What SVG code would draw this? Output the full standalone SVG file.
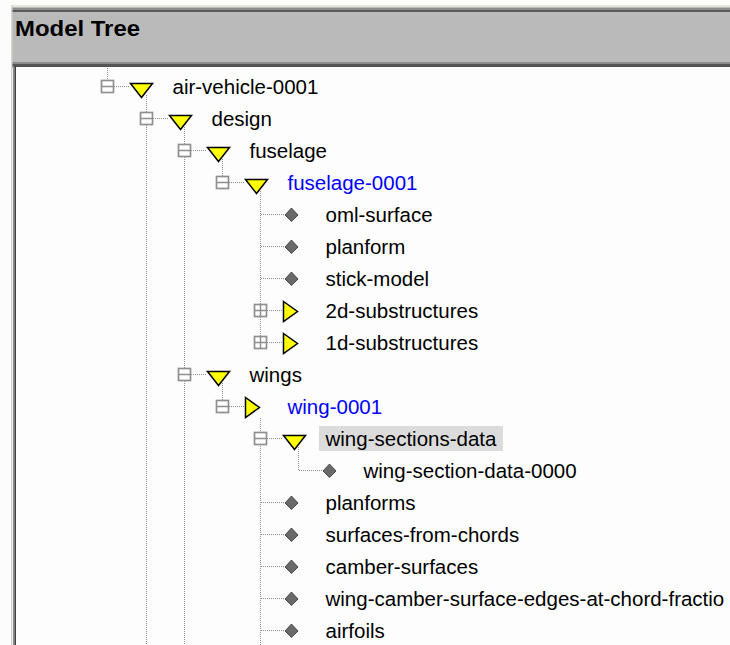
<svg xmlns="http://www.w3.org/2000/svg" width="730" height="645" viewBox="0 0 730 645">
  <style>
    .dot { fill: none; stroke: #8e8e8e; stroke-width: 1; stroke-dasharray: 1 1; }
    .box { fill: #ffffff; stroke: #8f8f8f; stroke-width: 1.7; }
    .boxline { stroke: #8f8f8f; stroke-width: 1.5; }
    .tri { fill: #ffff00; stroke: #000000; stroke-width: 1.5; stroke-linejoin: miter; }
    .dia { fill: #6a6a6a; stroke: #4a4a4a; stroke-width: 1; }
    .t { font-family: "Liberation Sans", Arial, sans-serif; font-size: 20.5px; fill: #000000; }
    .blue { fill: #0000ff; }
    .title { font-family: "Liberation Sans", Arial, sans-serif; font-size: 22px; font-weight: bold; fill: #000000; }
  </style>
  <defs>
    <!-- expand/collapse boxes, centred on (0,0) -->
    <g id="minus">
      <rect class="box" x="-6" y="-6" width="12" height="12"/>
      <line class="boxline" x1="-6" y1="0" x2="6" y2="0"/>
    </g>
    <g id="plus">
      <rect class="box" x="-6" y="-6" width="12" height="12"/>
      <line class="boxline" x1="-6" y1="0" x2="6" y2="0"/>
      <line class="boxline" x1="0" y1="-6" x2="0" y2="6"/>
    </g>
    <!-- folder icons, origin at box centre -->
    <polygon id="down" class="tri" points="23,-3 45,-3 34,11"/>
    <polygon id="right" class="tri" points="23,-9 37,1 23,11"/>
    <polygon id="leaf" class="dia" points="31,-6.5 37.5,0.5 31,7 24.5,0.5"/>
  </defs>

  <!-- window background -->
  <rect x="0" y="0" width="730" height="645" fill="#fcfcfc"/>

  <!-- panel header -->
  <g id="header">
    <rect x="12" y="5" width="718" height="63" fill="#bababa"/>
    <rect x="12" y="5" width="718" height="2" fill="#e4e4dc"/>
    <rect x="12" y="8" width="718" height="2" fill="#8c8c8c"/>
    <rect x="12" y="10" width="718" height="2" fill="#5a5a5a"/>
    <rect x="12" y="62" width="718" height="2" fill="#8c8c8c"/>
    <rect x="12" y="64" width="718" height="3" fill="#555555"/>
    <rect x="11" y="5" width="1.5" height="640" fill="#d6d6d0"/>
    <text class="title" x="15" y="36" textLength="125" lengthAdjust="spacingAndGlyphs">Model Tree</text>
  </g>

  <!-- tree area -->
  <rect x="16" y="67" width="714" height="578" fill="#fdfdfd"/>
  <rect x="13" y="66" width="1.5" height="579" fill="#8a8a8a"/>
  <rect x="14.5" y="66" width="1.5" height="579" fill="#404040"/>

  <g id="highlight">
    <rect x="319" y="426" width="184" height="25" fill="#dcdcdc"/>
  </g>

  <!-- dotted tree connectors -->
  <g id="connectors">
    <!-- vertical runs -->
    <line class="dot" x1="107.5" y1="68" x2="107.5" y2="80"/>
    <line class="dot" x1="146.5" y1="95" x2="146.5" y2="645"/>
    <line class="dot" x1="184.5" y1="127" x2="184.5" y2="645"/>
    <line class="dot" x1="222.5" y1="159" x2="222.5" y2="176"/>
    <line class="dot" x1="222.5" y1="383" x2="222.5" y2="400"/>
    <line class="dot" x1="260.5" y1="191" x2="260.5" y2="336"/>
    <line class="dot" x1="260.5" y1="418" x2="260.5" y2="645"/>
    <line class="dot" x1="298.5" y1="447" x2="298.5" y2="470"/>
    <!-- horizontal runs: box to icon -->
    <line class="dot" x1="114" y1="86.5" x2="130" y2="86.5"/>
    <line class="dot" x1="153" y1="118.5" x2="169" y2="118.5"/>
    <line class="dot" x1="191" y1="150.5" x2="207" y2="150.5"/>
    <line class="dot" x1="229" y1="182.5" x2="245" y2="182.5"/>
    <line class="dot" x1="267" y1="310.5" x2="283" y2="310.5"/>
    <line class="dot" x1="267" y1="342.5" x2="283" y2="342.5"/>
    <line class="dot" x1="191" y1="374.5" x2="207" y2="374.5"/>
    <line class="dot" x1="229" y1="406.5" x2="245" y2="406.5"/>
    <line class="dot" x1="267" y1="438.5" x2="283" y2="438.5"/>
    <!-- horizontal runs: line to leaf -->
    <line class="dot" x1="261" y1="214.5" x2="284" y2="214.5"/>
    <line class="dot" x1="261" y1="246.5" x2="284" y2="246.5"/>
    <line class="dot" x1="261" y1="278.5" x2="284" y2="278.5"/>
    <line class="dot" x1="299" y1="470.5" x2="322" y2="470.5"/>
    <line class="dot" x1="261" y1="502.5" x2="284" y2="502.5"/>
    <line class="dot" x1="261" y1="534.5" x2="284" y2="534.5"/>
    <line class="dot" x1="261" y1="566.5" x2="284" y2="566.5"/>
    <line class="dot" x1="261" y1="598.5" x2="284" y2="598.5"/>
    <line class="dot" x1="261" y1="630.5" x2="284" y2="630.5"/>
  </g>

  <!-- tree nodes -->
  <g id="air-vehicle-0001" transform="translate(107.5,86.5)">
    <use href="#minus"/><use href="#down"/>
    <text class="t" x="65" y="7">air-vehicle-0001</text>
  </g>
  <g id="design" transform="translate(146.5,118.5)">
    <use href="#minus"/><use href="#down"/>
    <text class="t" x="65" y="7">design</text>
  </g>
  <g id="fuselage" transform="translate(184.5,150.5)">
    <use href="#minus"/><use href="#down"/>
    <text class="t" x="65" y="7">fuselage</text>
  </g>
  <g id="fuselage-0001" transform="translate(222.5,182.5)">
    <use href="#minus"/><use href="#down"/>
    <text class="t blue" x="65" y="7">fuselage-0001</text>
  </g>
  <g id="oml-surface" transform="translate(260.5,214.5)">
    <use href="#leaf"/>
    <text class="t" x="65" y="7">oml-surface</text>
  </g>
  <g id="planform" transform="translate(260.5,246.5)">
    <use href="#leaf"/>
    <text class="t" x="65" y="7">planform</text>
  </g>
  <g id="stick-model" transform="translate(260.5,278.5)">
    <use href="#leaf"/>
    <text class="t" x="65" y="7">stick-model</text>
  </g>
  <g id="substructures-2d" transform="translate(260.5,310.5)">
    <use href="#plus"/><use href="#right"/>
    <text class="t" x="65" y="7">2d-substructures</text>
  </g>
  <g id="substructures-1d" transform="translate(260.5,342.5)">
    <use href="#plus"/><use href="#right"/>
    <text class="t" x="65" y="7">1d-substructures</text>
  </g>
  <g id="wings" transform="translate(184.5,374.5)">
    <use href="#minus"/><use href="#down"/>
    <text class="t" x="65" y="7">wings</text>
  </g>
  <g id="wing-0001" transform="translate(222.5,406.5)">
    <use href="#minus"/><use href="#right"/>
    <text class="t blue" x="65" y="7">wing-0001</text>
  </g>
  <g id="wing-sections-data" transform="translate(260.5,438.5)">
    <use href="#minus"/><use href="#down"/>
    <text class="t" x="65" y="7">wing-sections-data</text>
  </g>
  <g id="wing-section-data-0000" transform="translate(298.5,470.5)">
    <use href="#leaf"/>
    <text class="t" x="65" y="7">wing-section-data-0000</text>
  </g>
  <g id="planforms" transform="translate(260.5,502.5)">
    <use href="#leaf"/>
    <text class="t" x="65" y="7">planforms</text>
  </g>
  <g id="surfaces-from-chords" transform="translate(260.5,534.5)">
    <use href="#leaf"/>
    <text class="t" x="65" y="7">surfaces-from-chords</text>
  </g>
  <g id="camber-surfaces" transform="translate(260.5,566.5)">
    <use href="#leaf"/>
    <text class="t" x="65" y="7">camber-surfaces</text>
  </g>
  <g id="wing-camber-surface-edges" transform="translate(260.5,598.5)">
    <use href="#leaf"/>
    <text class="t" x="65" y="7">wing-camber-surface-edges-at-chord-fractio</text>
  </g>
  <g id="airfoils" transform="translate(260.5,630.5)">
    <use href="#leaf"/>
    <text class="t" x="65" y="7">airfoils</text>
  </g>
</svg>
